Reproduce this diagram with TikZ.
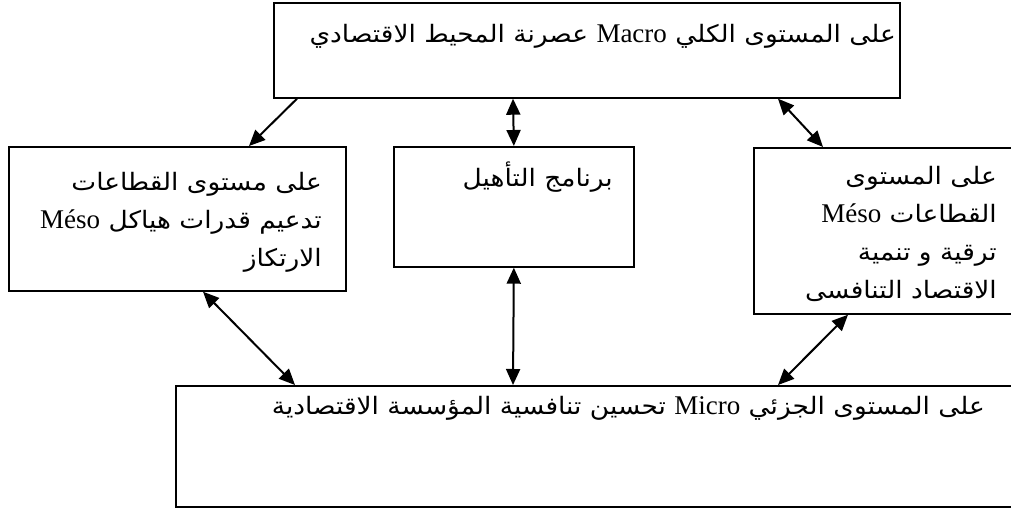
\documentclass[tikz,border=0pt]{standalone}
\usepackage{fontspec}
\setmainfont{Liberation Serif}
\newfontfamily\arabicfont[Script=Arabic,FakeStretch=1.1]{DejaVu Sans}
\TeXXeTstate=1
\usetikzlibrary{arrows.meta,calc}
\newcommand\arR[1]{{\arabicfont\fontsize{24}{32}\selectfont\beginR #1\endR}}
\newcommand\ltR[1]{{\rmfamily\fontsize{27}{32}\selectfont\beginL #1\endL}}
\tikzset{
  boxnode/.style={draw=black, line width=1.7pt, rectangle, inner sep=0pt, anchor=north west},
  txt/.style={anchor=base east, inner sep=0pt},
  arr/.style={line width=2pt, -{Triangle[length=16pt,width=14pt]}},
  darr/.style={line width=2pt, {Triangle[length=16pt,width=14pt]}-{Triangle[length=16pt,width=14pt]}},
}
\begin{document}
\begin{tikzpicture}[x=1pt,y=-1pt]
\clip (0,0) rectangle (1011,509);
\fill[white] (0,0) rectangle (1011,509);
% boxes
\node[boxnode, minimum width=626pt, minimum height=95pt] (top) at (273,2) {};
\node[boxnode, minimum width=337pt, minimum height=144pt] (left) at (8,146) {};
\node[boxnode, minimum width=240pt, minimum height=120pt] (mid) at (393,146) {};
\node[boxnode, minimum width=280pt, minimum height=166pt] (right) at (753,147) {};
\node[boxnode, minimum width=860pt, minimum height=121pt] (bot) at (175,385) {};
% texts
\node[txt] (ttop) at (896,42) {\arR{على المستوى الكلي \ltR{Macro} عصرنة المحيط الاقتصادي}};
\node[txt] (tleft1) at (322,190) {\arR{على مستوى القطاعات}};
\node[txt] (tleft2) at (322,228) {\arR{تدعيم قدرات هياكل \ltR{Méso}}};
\node[txt] (tleft3) at (322,266) {\arR{الارتكاز}};
\node[txt] (tmid) at (613,186) {\arR{برنامج التأهيل}};
\node[txt] (tright1) at (997,184) {\arR{على المستوى}};
\node[txt] (tright2) at (997,222) {\arR{القطاعات \ltR{Méso}}};
\node[txt] (tright3) at (997,260) {\arR{ترقية و تنمية}};
\node[txt] (tright4) at (997,298) {\arR{الاقتصاد التنافسى}};
\node[txt] (tbot) at (985,414) {\arR{على المستوى الجزئي \ltR{Micro} تحسين تنافسية المؤسسة الاقتصادية}};
% connectors
\draw[arr] ([xshift=24pt]top.south west) -- ([xshift=241pt]left.north west);
\draw[darr] ([xshift=240pt]top.south west) -- (mid.north);
\draw[darr] ([xshift=505pt]top.south west) -- ([xshift=70pt]right.north west);
\draw[darr] ([xshift=195pt]left.south west) -- ([xshift=120pt]bot.north west);
\draw[darr] (mid.south) -- ([xshift=338pt]bot.north west);
\draw[darr] ([xshift=95pt]right.south west) -- ([xshift=603pt]bot.north west);
\end{tikzpicture}
\end{document}
